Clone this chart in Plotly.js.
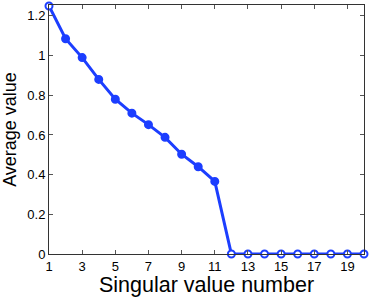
<!DOCTYPE html>
<html><head><meta charset="utf-8">
<script src="https://cdn.plot.ly/plotly-3.0.1.min.js"></script>
<style>html,body{margin:0;padding:0;background:#fff;}#chart{width:374px;height:297px;}</style>
</head><body><div id="chart"></div>
<script>
var singularIndex = [1,2,3,4,5,6,7,8,9,10,11,12,13,14,15,16,17,18,19,20];
var averageValue = [1.25,1.085,0.99,0.88,0.78,0.71,0.652,0.588,0.503,0.44,0.366,0,0,0,0,0,0,0,0,0];
var xTicks = [1,3,5,7,9,11,13,15,17,19];
var yTicks = [0,0.2,0.4,0.6,0.8,1,1.2];
var yTickText = ['0','0.2','0.4','0.6','0.8','1','1.2'];

var blue = 'rgb(28,62,255)';
var fills = averageValue.map(function(v, i){ return (i === 0 || v === 0) ? '#ffffff' : blue; });

var trace = {
  x: singularIndex, y: averageValue, type: 'scatter', mode: 'lines+markers',
  line: {color: blue, width: 3},
  marker: {size: 7, color: fills, line: {color: blue, width: 2}},
  cliponaxis: false, hoverinfo: 'skip'
};
var fam = 'Liberation Sans, Arial, sans-serif';
var axFont = {family: fam, size: 13, color: '#000'};
var layout = {
  width: 374, height: 297,
  margin: {l: 49, r: 10, t: 5, b: 43},
  paper_bgcolor: '#fff', plot_bgcolor: '#fff',
  showlegend: false,
  xaxis: {
    range: [1, 20], tickvals: xTicks, ticks: 'inside', ticklen: 4, tickcolor: '#555',
    showline: true, linecolor: '#333', linewidth: 1, mirror: 'ticks',
    showgrid: false, zeroline: false, tickfont: axFont,
    title: {text: 'Singular value number', font: {family: fam, size: 21.5, color: '#000'}, standoff: 0}
  },
  yaxis: {
    range: [0, 1.255], tickvals: yTicks, ticktext: yTickText, ticks: 'inside', ticklen: 4, tickcolor: '#555',
    showline: true, linecolor: '#333', linewidth: 1, mirror: 'ticks',
    showgrid: false, zeroline: false, tickfont: axFont,
    title: {text: 'Average value', font: {family: fam, size: 18, color: '#000'}, standoff: 7}
  }
};
Plotly.newPlot('chart', [trace], layout, {displayModeBar: false, staticPlot: true});
</script></body></html>
